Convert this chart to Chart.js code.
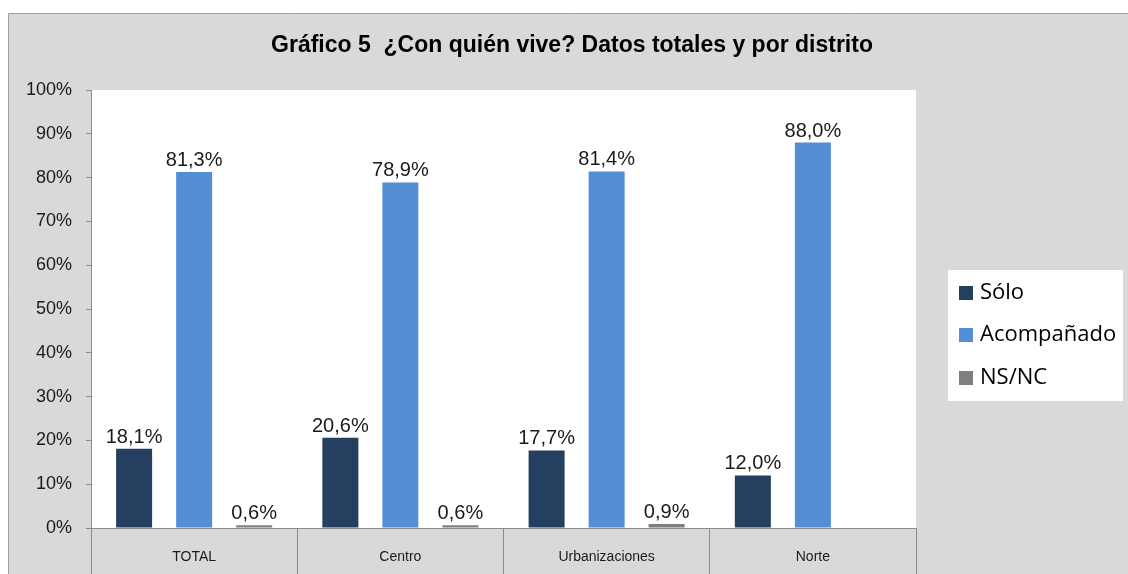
<!DOCTYPE html>
<html>
<head>
<meta charset="utf-8">
<script src="https://cdn.jsdelivr.net/npm/chart.js@4/dist/chart.umd.min.js"></script>
<style>
  html, body { margin: 0; padding: 0; background: #fff; }
</style>
</head>
<body>
<canvas id="myChart" width="1128" height="574"></canvas>
<script>
const titleText = 'Gráfico 5  ¿Con quién vive? Datos totales y por distrito';
const categories = ['TOTAL', 'Centro', 'Urbanizaciones', 'Norte'];
const seriesNames = ['Sólo', 'Acompañado', 'NS/NC'];
const soloValues = [18.1, 20.6, 17.7, 12.0];
const acompanadoValues = [81.3, 78.9, 81.4, 88.0];
const nsncValues = [0.6, 0.6, 0.9, null];
const seriesColors = ['#243f60', '#558ed5', '#7f7f7f'];

const fmt = v => v.toFixed(1).replace('.', ',') + '%';
const lineGrey = '#8c8c8c';

// background frame, plot area, title, value labels and legend
const decor = {
  id: 'decor',
  beforeDraw: chart => {
    const { ctx, chartArea: a } = chart;
    ctx.save();
    ctx.fillStyle = '#d9d9d9';
    ctx.fillRect(8, 13, chart.width, chart.height);
    ctx.strokeStyle = '#a0a0a0';
    ctx.lineWidth = 1;
    ctx.beginPath();
    ctx.moveTo(8.5, chart.height);
    ctx.lineTo(8.5, 13.5);
    ctx.lineTo(chart.width, 13.5);
    ctx.stroke();
    ctx.fillStyle = '#fff';
    ctx.fillRect(a.left, a.top, a.right - a.left, a.bottom - a.top);
    ctx.restore();
  },
  afterDraw: chart => {
    const { ctx } = chart;
    ctx.save();
    ctx.fillStyle = '#000';
    ctx.font = 'bold 23px "Liberation Sans"';
    ctx.textAlign = 'center';
    ctx.textBaseline = 'middle';
    ctx.fillText(titleText, 572, 46);

    ctx.font = '20px "Liberation Sans"';
    ctx.textBaseline = 'alphabetic';
    ctx.fillStyle = '#1a1a1a';
    chart.data.datasets.forEach((ds, i) => {
      chart.getDatasetMeta(i).data.forEach((bar, j) => {
        const v = ds.data[j];
        if (v == null) return;
        ctx.fillText(fmt(v), bar.x, bar.y - 6);
      });
    });

    // legend
    ctx.fillStyle = '#fff';
    ctx.fillRect(948, 270, 175, 131);
    ctx.font = '22px "Open Sans"';
    ctx.textAlign = 'left';
    ctx.textBaseline = 'middle';
    const rows = [293, 335, 378];
    chart.data.datasets.forEach((ds, i) => {
      ctx.fillStyle = ds.backgroundColor;
      ctx.fillRect(959, rows[i] - 7, 14, 14);
      ctx.fillStyle = '#000';
      ctx.fillText(ds.label, 980, rows[i]);
    });
    ctx.restore();
  }
};

new Chart(document.getElementById('myChart'), {
  type: 'bar',
  data: {
    labels: categories,
    datasets: [
      { label: seriesNames[0], data: soloValues, backgroundColor: seriesColors[0] },
      { label: seriesNames[1], data: acompanadoValues, backgroundColor: seriesColors[1] },
      { label: seriesNames[2], data: nsncValues, backgroundColor: seriesColors[2] }
    ]
  },
  options: {
    responsive: false,
    animation: false,
    devicePixelRatio: 1,
    layout: { padding: { top: 90, right: 212, bottom: 0, left: 0 } },
    categoryPercentage: 0.873,
    barPercentage: 0.6,
    plugins: {
      legend: { display: false },
      title: { display: false },
      tooltip: { enabled: false }
    },
    scales: {
      x: {
        afterFit: s => { s.height = 46; },
        grid: {
          offset: true,
          drawOnChartArea: false,
          drawTicks: true,
          tickLength: 46,
          color: lineGrey
        },
        border: { display: true, color: lineGrey },
        ticks: {
          padding: -25,
          color: '#1a1a1a',
          font: { family: 'Liberation Sans', size: 14 }
        }
      },
      y: {
        min: 0,
        max: 100,
        afterFit: s => { s.width = 91; },
        grid: {
          drawOnChartArea: false,
          drawTicks: true,
          tickLength: 5,
          color: lineGrey
        },
        border: { display: true, color: lineGrey },
        ticks: {
          stepSize: 10,
          padding: 14,
          color: '#1a1a1a',
          font: { family: 'Liberation Sans', size: 18 },
          callback: v => v + '%'
        }
      }
    }
  },
  plugins: [decor]
});
</script>
</body>
</html>
